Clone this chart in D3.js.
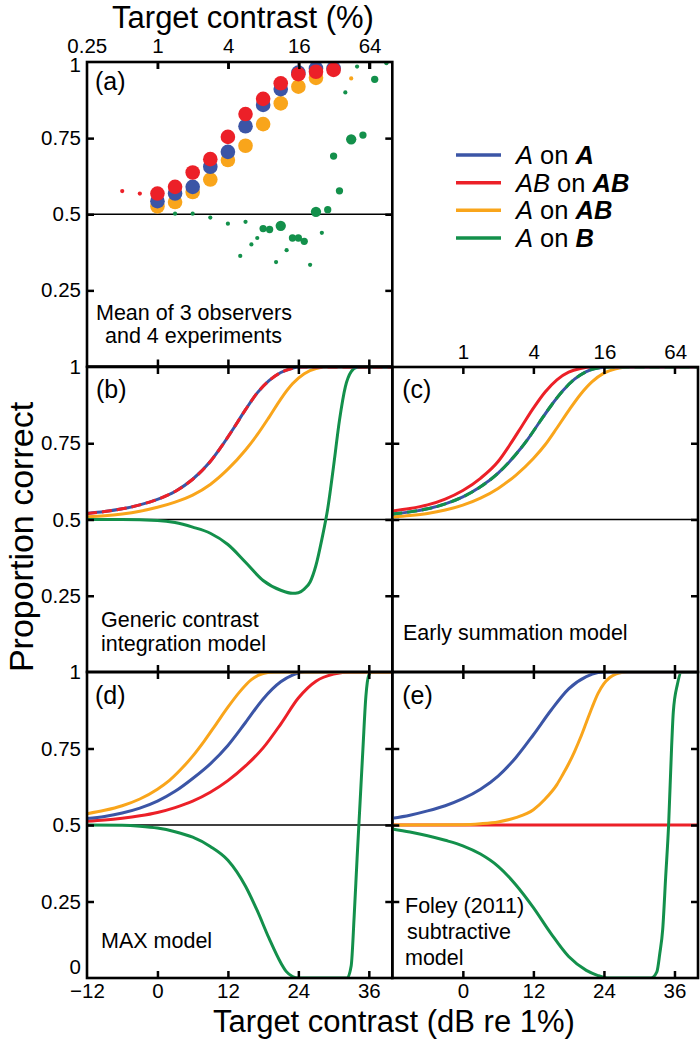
<!DOCTYPE html>
<html><head><meta charset="utf-8">
<script src="https://cdn.jsdelivr.net/npm/d3@7"></script>
<style>
body{margin:0;background:#fff}
svg{display:block}
text{font-family:"Liberation Sans",Arial,Helvetica,sans-serif;fill:#000}
</style>
</head><body>
<svg id="chart" width="700" height="1045"></svg>
<script>
// ---------------- DATA ----------------
// Panel (a): mean data (dB re 1%, proportion correct, number of data sets averaged)
const aRedDb   = [-6,-3,0,3,6,9,12,15,18,21,24,27,30];
const aRedP    = [0.576,0.568,0.568,0.590,0.637,0.681,0.754,0.829,0.879,0.930,0.960,0.968,0.974];
const aRedN    = [1,1,12,12,12,12,12,12,12,12,12,12,12];
const aBlueDb  = [0,3,6,9,12,15,18,21,24,27,30];
const aBlueP   = [0.543,0.568,0.590,0.656,0.705,0.789,0.859,0.911,0.965,0.979,0.979];
const aBlueN   = [12,12,12,12,12,12,12,12,12,12,12];
const aOrangeDb= [0,3,6,9,12,15,18,21,24,27,33];
const aOrangeP = [0.526,0.540,0.573,0.614,0.678,0.725,0.796,0.864,0.919,0.948,0.946];
const aOrangeN = [12,12,12,12,12,12,12,12,12,12,1];
const aGreenDb = [3,6,9,12,14.1,15,16,17,18,19.1,20.2,21,22,23,24,25,26,27,28,29,30,31,32,33,34,35,37,39];
const aGreenP  = [0.502,0.502,0.489,0.469,0.363,0.475,0.401,0.422,0.453,0.450,0.343,0.462,0.382,0.422,0.422,0.411,0.334,0.508,0.439,0.515,0.691,0.577,0.900,0.746,0.985,0.760,0.943,0.996];
const aGreenN  = [1,1,1,1,1,1,1,1,3,3,1,6,1,3,3,3,1,6,1,3,3,3,1,6,1,3,3,1];

// Panel (b): generic contrast integration model
const bRedDb    = [-12,-9,-6,-3,0,3,6,9,11,13,15,17,19,21,23,24,26,40];
const bRedP     = [0.52,0.526,0.535,0.548,0.566,0.592,0.632,0.69,0.742,0.80,0.86,0.915,0.955,0.982,0.996,1,1,1];
const bBlueDb   = bRedDb;
const bBlueP    = bRedP;
const bOrangeDb = [-12,-9,-6,-3,0,3,6,9,12,15,17,19,21,23,25,27,29,40];
const bOrangeP  = [0.509,0.512,0.518,0.527,0.54,0.557,0.58,0.615,0.665,0.728,0.778,0.835,0.895,0.945,0.978,0.995,1,1];
const bGreenDb  = [-12,-6,0,3,6,9,12,15,18,21,23,24,25,26,27,28,29,30,31,32,33,34,35,40];
const bGreenP   = [0.5,0.5,0.497,0.49,0.475,0.455,0.418,0.36,0.30,0.268,0.258,0.26,0.272,0.295,0.35,0.435,0.535,0.675,0.825,0.935,0.985,0.999,1,1];

// Panel (c): early summation model
const cRedDb    = [-12,-9,-6,-3,0,3,6,8,10,12,14,16,18,20,22,40];
const cRedP     = [0.528,0.536,0.548,0.567,0.595,0.635,0.69,0.745,0.805,0.865,0.918,0.958,0.983,0.995,1,1];
const cBlueDb   = [-12,-9,-6,-3,0,3,6,9,11,13,15,17,19,21,23,25,40];
const cBlueP    = [0.518,0.525,0.535,0.551,0.574,0.607,0.652,0.713,0.762,0.818,0.873,0.922,0.96,0.985,0.997,1,1];
const cGreenDb  = cBlueDb;
const cGreenP   = cBlueP;
const cOrangeDb = [-12,-9,-6,-3,0,3,6,9,12,14,16,18,20,22,24,26,28,40];
const cOrangeP  = [0.508,0.513,0.52,0.531,0.547,0.57,0.602,0.645,0.70,0.745,0.80,0.857,0.91,0.952,0.98,0.994,1,1];

// Panel (d): MAX model
const dOrangeDb = [-12,-9,-6,-3,0,2,4,6,8,10,12,14,16,18,20,40];
const dOrangeP  = [0.537,0.548,0.563,0.585,0.617,0.645,0.682,0.725,0.775,0.83,0.885,0.935,0.975,0.995,1,1];
const dBlueDb   = [-12,-9,-6,-3,0,3,6,9,12,15,18,21,23,25,40];
const dBlueP    = [0.521,0.528,0.539,0.555,0.578,0.61,0.652,0.70,0.76,0.835,0.912,0.968,0.99,1,1];
const dRedDb    = [-12,-9,-6,-3,0,3,6,9,12,15,18,21,24,27,30,33,40];
const dRedP     = [0.512,0.516,0.522,0.53,0.541,0.557,0.578,0.607,0.645,0.693,0.752,0.83,0.915,0.97,0.993,1,1];
const dGreenDb  = [-12,-6,-3,0,3,6,9,12,15,17,19,21,22,23,24,32.3,33,33.5,34,34.5,35,35.5,36,36.5,40];
const dGreenP   = [0.5,0.499,0.496,0.49,0.478,0.46,0.43,0.385,0.30,0.22,0.13,0.05,0.02,0.005,0,0,0.04,0.2,0.39,0.57,0.75,0.92,0.99,1,1];

// Panel (e): Foley (2011) subtractive model
const eBlueDb   = [-12,-9,-6,-3,0,3,6,9,12,15,18,21,23,24,40];
const eBlueP    = [0.522,0.532,0.546,0.563,0.586,0.617,0.66,0.72,0.795,0.875,0.945,0.985,0.998,1,1];
const eOrangeDb = [-12,0,3,6,9,12,14,16,17,18,19,20,21,22,23,24,25,26,27,28,40];
const eOrangeP  = [0.5,0.501,0.504,0.51,0.524,0.55,0.585,0.632,0.665,0.70,0.74,0.785,0.835,0.885,0.93,0.962,0.982,0.993,0.998,1,1];
const eRedDb    = [-12,0,12,24,36,40];
const eRedP     = [0.5,0.5,0.5,0.5,0.5,0.5];
const eGreenDb  = [-12,-9,-6,-3,0,3,6,9,12,15,18,21,23,24,25,32,33,33.5,34,34.5,35,35.5,35.8,36.5,37.2,40];
const eGreenP   = [0.487,0.477,0.465,0.45,0.432,0.405,0.365,0.305,0.23,0.145,0.07,0.025,0.008,0.002,0,0,0.02,0.08,0.16,0.33,0.5,0.75,0.87,0.96,1,1];

// Axis tick values / labels
const dbTicks       = [0,12,24,36];
const dbTicksLabelL = [-12,0,12,24,36];
const pctTicksA     = [0.25,1,4,16,64];
const pctTicksC     = [1,4,16,64];
const pTicks        = [0.25,0.5,0.75];
const pLabels       = [1,0.75,0.5,0.25];
const pLabelsBottom = [1,0.75,0.5,0.25,0];

const legendLabels = [
  [["A","i"],[" on ","n"],["A","bi"]],
  [["AB","i"],[" on ","n"],["AB","bi"]],
  [["A","i"],[" on ","n"],["AB","bi"]],
  [["A","i"],[" on ","n"],["B","bi"]]
];

// ---------------- DRAWING ----------------
const COL = {blue:"#3b55a6", red:"#ec2028", orange:"#f9a51b", green:"#13904b"};
const svg = d3.select("#chart");
const defs = svg.append("defs");

const xL = d3.scaleLinear().domain([-12,40]).range([87,392.3]);
const xR = d3.scaleLinear().domain([-12,40]).range([392.3,698]);
const yA = d3.scaleLinear().domain([0,1]).range([366.5,62]);
const yB = d3.scaleLinear().domain([0,1]).range([672,367]);
const yD = d3.scaleLinear().domain([0,1]).range([978,672]);
const dbToPct = db => Math.pow(10, db/20);
const pctL = d3.scaleLog().domain([dbToPct(-12), dbToPct(40)]).range(xL.range());
const pctR = d3.scaleLog().domain([dbToPct(-12), dbToPct(40)]).range(xR.range());

const fmtP = d => d===1 ? "1" : d===0 ? "0" : String(d);
const FS_TICK = 20.5;
const FS_NOTE = 21.5;

function tickOnly(sel){
  sel.select(".domain").remove();
  sel.selectAll(".tick line").attr("stroke","#000").attr("stroke-width",2.5);
  sel.selectAll(".tick text").remove();
}
function labelStyle(sel){
  sel.select(".domain").remove();
  sel.selectAll(".tick line").remove();
  sel.selectAll(".tick text").attr("font-size",FS_TICK).attr("fill","#000")
     .attr("font-family",'"Liberation Sans",Arial,Helvetica,sans-serif');
}

function panel(id, x, y){
  const [x0,x1] = x.range();
  const [yb,yt] = y.range();
  const g = svg.append("g").attr("class","panel-"+id);
  defs.append("clipPath").attr("id","clip-"+id).append("rect")
    .attr("x",x0).attr("y",yt).attr("width",x1-x0).attr("height",yb-yt);
  g.append("line").attr("x1",x0).attr("x2",x1).attr("y1",y(0.5)).attr("y2",y(0.5))
    .attr("stroke","#000").attr("stroke-width",1.6);
  const plot = g.append("g").attr("clip-path",`url(#clip-${id})`);
  const ticks = g.append("g");
  ticks.append("g").attr("transform",`translate(0,${yt})`).call(d3.axisTop(x).tickValues(dbTicks).tickSize(-7).tickSizeOuter(0)).call(tickOnly);
  ticks.append("g").attr("transform",`translate(0,${yb})`).call(d3.axisBottom(x).tickValues(dbTicks).tickSize(-7).tickSizeOuter(0)).call(tickOnly);
  ticks.append("g").attr("transform",`translate(${x0},0)`).call(d3.axisLeft(y).tickValues(pTicks).tickSize(-7).tickSizeOuter(0)).call(tickOnly);
  ticks.append("g").attr("transform",`translate(${x1},0)`).call(d3.axisRight(y).tickValues(pTicks).tickSize(-7).tickSizeOuter(0)).call(tickOnly);
  return {g, plot, x, y, x0, x1, yt, yb};
}
function frame(p){
  p.g.append("rect").attr("x",p.x0).attr("y",p.yt).attr("width",p.x1-p.x0).attr("height",p.yb-p.yt)
    .attr("fill","none").attr("stroke","#000").attr("stroke-width",2.6);
}
function curve(p, dbs, ps, color, dash){
  const line = d3.line().x(d=>p.x(d[0])).y(d=>p.y(d[1])).curve(d3.curveMonotoneX);
  const path = p.plot.append("path").datum(d3.zip(dbs, ps)).attr("d", line)
    .attr("fill","none").attr("stroke",color).attr("stroke-width",3)
    .attr("stroke-linejoin","round");
  if (dash) path.attr("stroke-dasharray", dash);
}
function label(p, txt, dx, dy){
  p.g.append("text").attr("x",p.x0+dx).attr("y",p.yt+dy).attr("font-size",25).text(txt);
}
function note(p, lines, x, y0, dy){
  lines.forEach((l,i)=>{
    p.g.append("text").attr("x",x+(l[1]||0)).attr("y",y0+i*dy).attr("font-size",FS_NOTE).text(l[0]);
  });
}

// ---- Panel (a)
const pa = panel("a", xL, yA);
const rScale = d3.scaleSqrt().domain([0,12]).range([0,7.3]);
function dots(p, dbs, ps, ns, color){
  p.g.append("g").selectAll("circle").data(d3.zip(dbs,ps,ns)).join("circle")
    .attr("cx",d=>p.x(d[0])).attr("cy",d=>p.y(d[1])).attr("r",d=>rScale(d[2])).attr("fill",color);
}
dots(pa, aGreenDb, aGreenP, aGreenN, COL.green);
dots(pa, aOrangeDb, aOrangeP, aOrangeN, COL.orange);
dots(pa, aBlueDb, aBlueP, aBlueN, COL.blue);
dots(pa, aRedDb, aRedP, aRedN, COL.red);
frame(pa);
label(pa,"(a)",8,28);
note(pa, [["Mean of 3 observers",0],["and 4 experiments",9]], 96, 320, 23);
// top contrast axis
svg.append("g").attr("transform",`translate(0,${yA.range()[1]})`)
  .call(d3.axisTop(pctL).tickValues(pctTicksA).tickSize(0).tickPadding(9).tickFormat(d=>String(d))).call(labelStyle);
svg.append("g").attr("transform",`translate(0,${yA.range()[1]})`)
  .call(d3.axisTop(pctL).tickValues(pctTicksA.slice(1)).tickSize(-7).tickSizeOuter(0)).call(tickOnly);

// ---- Panel (b)
const pb = panel("b", xL, yB);
curve(pb, bOrangeDb, bOrangeP, COL.orange);
curve(pb, bGreenDb, bGreenP, COL.green);
curve(pb, bBlueDb, bBlueP, COL.blue);
curve(pb, bRedDb, bRedP, COL.red, "10,5");
frame(pb);
label(pb,"(b)",9,31);
note(pb, [["Generic contrast",0],["integration model",0]], 101, 627, 23.5);

// ---- Panel (c)
const pc = panel("c", xR, yB);
curve(pc, cOrangeDb, cOrangeP, COL.orange);
curve(pc, cRedDb, cRedP, COL.red);
curve(pc, cBlueDb, cBlueP, COL.blue);
curve(pc, cGreenDb, cGreenP, COL.green, "10,5");
frame(pc);
label(pc,"(c)",10,31);
note(pc, [["Early summation model",0]], 403, 640, 23);
svg.append("g").attr("transform",`translate(0,${yB.range()[1]})`)
  .call(d3.axisTop(pctR).tickValues(pctTicksC).tickSize(0).tickPadding(8).tickFormat(d=>String(d))).call(labelStyle);

// ---- Panel (d)
const pd = panel("d", xL, yD);
curve(pd, dGreenDb, dGreenP, COL.green);
curve(pd, dRedDb, dRedP, COL.red);
curve(pd, dBlueDb, dBlueP, COL.blue);
curve(pd, dOrangeDb, dOrangeP, COL.orange);
frame(pd);
label(pd,"(d)",8,32);
note(pd, [["MAX model",0]], 101, 948, 23);

// ---- Panel (e)
const pe = panel("e", xR, yD);
curve(pe, eRedDb, eRedP, COL.red);
curve(pe, eGreenDb, eGreenP, COL.green);
curve(pe, eOrangeDb, eOrangeP, COL.orange);
curve(pe, eBlueDb, eBlueP, COL.blue);
frame(pe);
label(pe,"(e)",10,32);
note(pe, [["Foley (2011)",0],["subtractive",2],["model",0]], 405, 913, 26);

// ---- Left proportion labels
[[yA,pLabels],[yB,pLabels],[yD,pLabelsBottom]].forEach(([ys,vals])=>{
  svg.append("g").attr("transform",`translate(${xL.range()[0]},0)`)
    .call(d3.axisLeft(ys).tickValues(vals).tickSize(0).tickPadding(6).tickFormat(fmtP)).call(labelStyle)
    .selectAll(".tick text").attr("dy", d => d===0 ? "-0.2em" : d===1 && ys===yA ? "0.45em" : "0.32em");
});
// ---- Bottom dB labels
svg.append("g").attr("transform",`translate(0,${yD.range()[0]})`)
  .call(d3.axisBottom(xL).tickValues(dbTicksLabelL).tickSize(0).tickPadding(5)).call(labelStyle);
svg.append("g").attr("transform",`translate(0,${yD.range()[0]})`)
  .call(d3.axisBottom(xR).tickValues(dbTicks).tickSize(0).tickPadding(5)).call(labelStyle);

// ---- Titles
svg.append("text").attr("x",243).attr("y",28).attr("text-anchor","middle").attr("font-size",31).text("Target contrast (%)");
svg.append("text").attr("x",394).attr("y",1032).attr("text-anchor","middle").attr("font-size",31).text("Target contrast (dB re 1%)");
svg.append("text").attr("transform","translate(33,537) rotate(-90)").attr("text-anchor","middle").attr("font-size",34).text("Proportion correct");

// ---- Legend
const legColors = [COL.blue, COL.red, COL.orange, COL.green];
const legY = d3.scalePoint().domain(d3.range(legendLabels.length)).range([155,238]);
const leg = svg.append("g");
legendLabels.forEach((parts,i)=>{
  const yy = legY(i);
  leg.append("line").attr("x1",456).attr("x2",501).attr("y1",yy).attr("y2",yy)
    .attr("stroke",legColors[i]).attr("stroke-width",3.5);
  const t = leg.append("text").attr("x",516).attr("y",yy+9).attr("font-size",25.5);
  parts.forEach(([s,st])=>{
    const ts = t.append("tspan").text(s).attr("xml:space","preserve");
    if (st.includes("i")) ts.attr("font-style","italic");
    if (st.includes("b")) ts.attr("font-weight","bold");
  });
});
</script>
</body></html>
